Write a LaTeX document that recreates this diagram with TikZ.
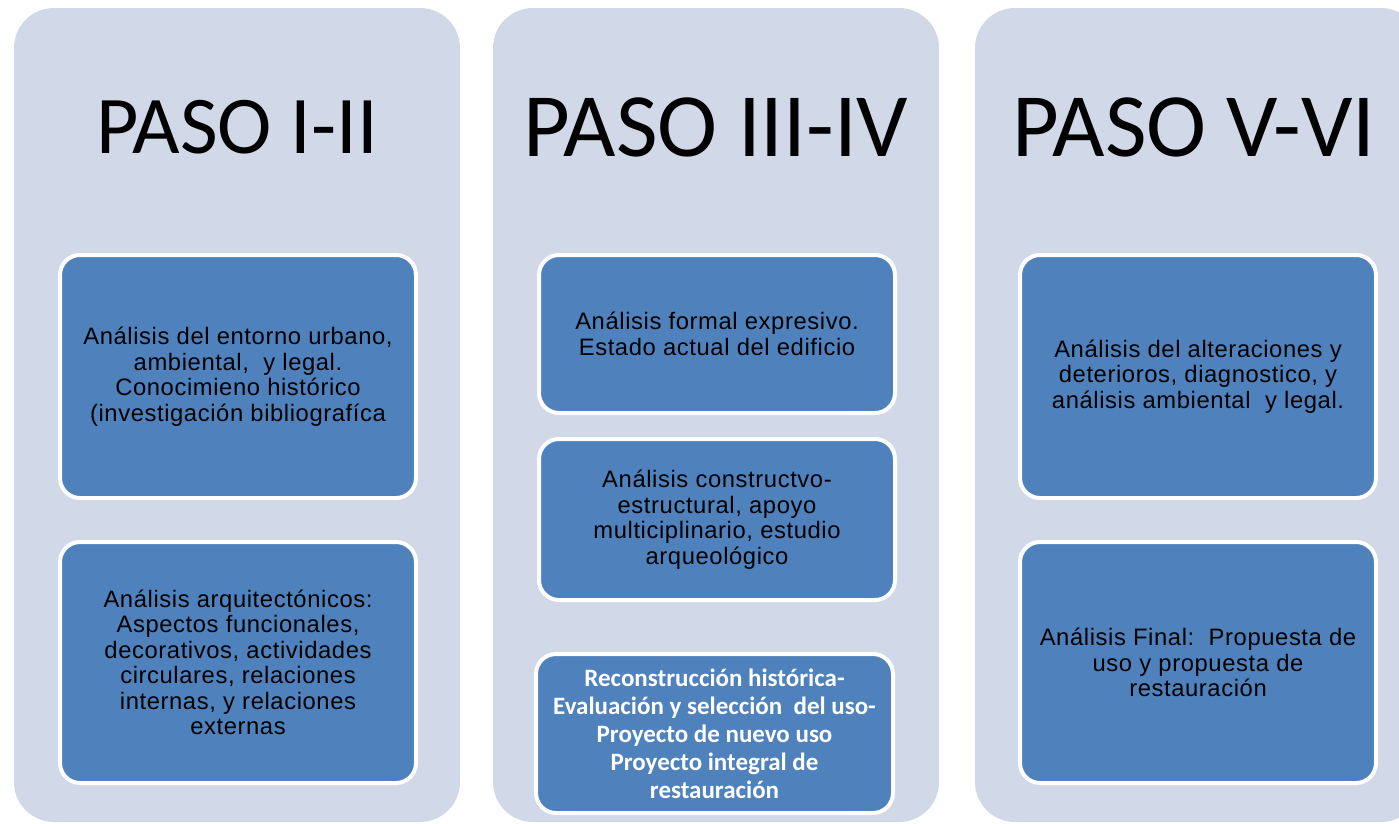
\documentclass[tikz,border=0pt]{standalone}
\usepackage{fontspec}
\setmainfont{Liberation Sans}[LetterSpace=2.5]
\newfontfamily\calibri{Carlito}
\definecolor{colbg}{HTML}{D1D8E7}
\definecolor{boxblue}{HTML}{4F81BD}
\begin{document}
\begin{tikzpicture}[x=1pt,y=-1pt,
  colbox/.style={fill=colbg, rounded corners=40pt},
  title/.style={font=\calibri\fontsize{82}{90}\selectfont, text=black, anchor=center},
  bigtitle/.style={title, font=\calibri\fontsize{90.5}{98}\selectfont},
  bluebox/.style={draw=white, line width=4pt, fill=boxblue, rounded corners=20pt,
    align=center, inner sep=0pt, text=black,
    font=\fontsize{23.8}{25.5}\selectfont},
  boldbox/.style={bluebox, text=white, font=\calibri\bfseries\fontsize{25}{28}\selectfont}
]
\useasboundingbox (0,0) rectangle (1399,823);
\clip (0,0) rectangle (1399,823);
% columns
\fill[colbox] (14,8) rectangle (460,822);
\fill[colbox] (493,8) rectangle (939,822);
\fill[colbox] (975,8) rectangle (1421,822);
% titles
\node[title] (t1) at (237,127) {PASO I-II};
\node[bigtitle] (t2) at (716,127) {PASO III-IV};
\node[bigtitle] (t3) at (1194,127) {PASO V-VI};
% column 1
\node[bluebox, minimum width=356pt, minimum height=243pt] (a1) at (238,376.5)
 {Análisis del entorno urbano,\\ambiental,\ \ y legal.\\Conocimieno histórico\\(investigación bibliografíca};
\node[bluebox, minimum width=356pt, minimum height=241pt] (a2) at (238,662.5)
 {Análisis arquitectónicos:\\Aspectos funcionales,\\decorativos, actividades\\circulares, relaciones\\internas, y relaciones\\externas};
% column 2
\node[bluebox, minimum width=356pt, minimum height=158pt] (b1) at (717,334)
 {Análisis formal expresivo.\\Estado actual del edificio};
\node[bluebox, minimum width=356pt, minimum height=161pt] (b2) at (717,519.5)
 {Análisis constructvo-\\estructural, apoyo\\multiciplinario, estudio\\arqueológico};
\node[boldbox, minimum width=357pt, minimum height=159pt] (b3) at (714.5,733.5)
 {Reconstrucción histórica-\\Evaluación y selección\ \ del uso-\\Proyecto de nuevo uso\\Proyecto integral de\\restauración};
% column 3
\node[bluebox, minimum width=356pt, minimum height=243pt] (c1) at (1198,376.5)
 {Análisis del alteraciones y\\deterioros, diagnostico, y\\análisis ambiental\ \ y legal.};
\node[bluebox, minimum width=356pt, minimum height=241pt] (c2) at (1198,662.5)
 {Análisis Final:\ \ Propuesta de\\uso y propuesta de\\restauración};
\end{tikzpicture}
\end{document}
